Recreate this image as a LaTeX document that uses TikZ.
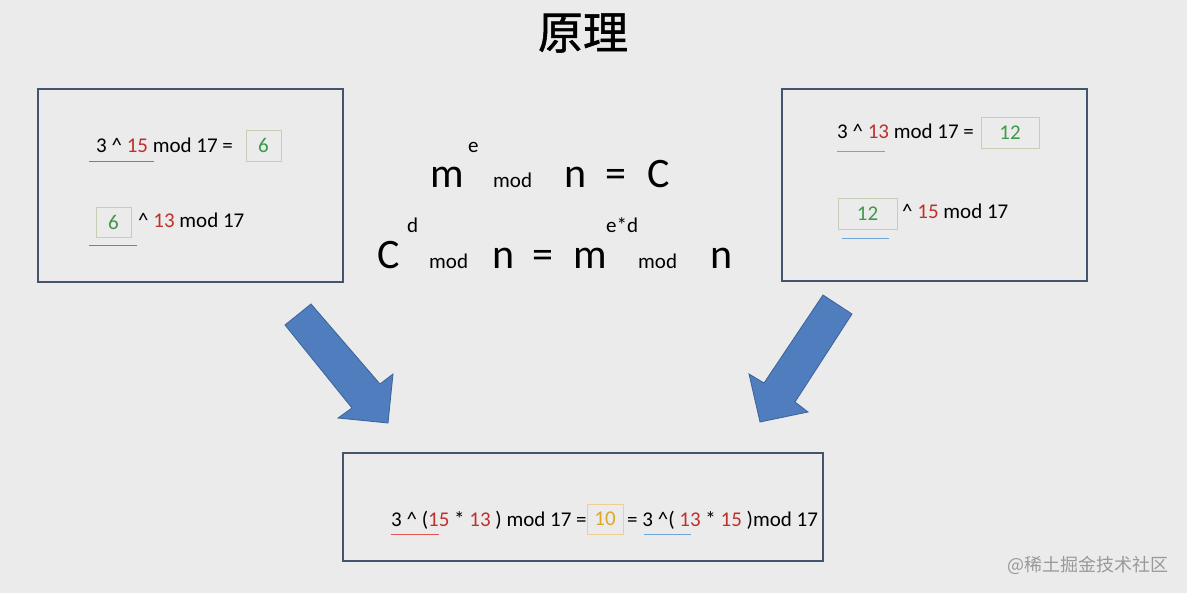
\documentclass[tikz,border=0pt]{standalone}
\usepackage{fontspec}
\setmainfont{Carlito}
\newfontfamily\cjk{Noto Sans CJK SC}
\newfontfamily\cjktitle[FakeBold=1.2]{Noto Sans CJK SC}
\definecolor{bg}{HTML}{EBEBEB}
\definecolor{panelline}{HTML}{44546A}
\definecolor{numred}{HTML}{C0302B}
\definecolor{numgreen}{HTML}{3E9A4A}
\definecolor{numorange}{HTML}{E0A52A}
\definecolor{greenline}{HTML}{C5CFB5}
\definecolor{orangeline}{HTML}{EBCF95}
\definecolor{ulred}{HTML}{E05555}
\definecolor{ulblue}{HTML}{6FA6D6}
\definecolor{arrowblue}{HTML}{4F7DBE}
\definecolor{arrowline}{HTML}{3B629A}
\newcommand\rn[1]{\textcolor{numred}{#1}}
\newcommand\caret{\textasciicircum}
\begin{document}
\begin{tikzpicture}[x=1pt,y=-1pt,
    txt/.style={anchor=base west,inner sep=0pt,font=\fontsize{21}{25}\selectfont},
    big/.style={anchor=base west,inner sep=0pt,font=\fontsize{42}{48}\selectfont},
    small/.style={anchor=base west,inner sep=0pt,font=\fontsize{21}{24}\selectfont},
    panel/.style={draw=panelline,line width=1.3pt,fill=bg},
    result/.style={draw=greenline,line width=0.8pt,text=numgreen,inner sep=0pt,font=\fontsize{21}{25}\selectfont},
    uline/.style={line width=1.3pt},
    blockarrow/.style={fill=arrowblue,draw=arrowline,line width=0.8pt}]
  \fill[bg] (0,0) rectangle (1187,593);
  \useasboundingbox (0,0) rectangle (1187,593);

  \node (title) at (583,33) [font=\fontsize{45}{50}\selectfont] {\cjktitle 原理};

  % three panels
  \node (leftpanel)   at (190.5,185.5) [panel,minimum width=305pt,minimum height=193pt] {};
  \node (rightpanel)  at (934.5,185)   [panel,minimum width=305pt,minimum height=192pt] {};
  \node (bottompanel) at (583,507)     [panel,minimum width=480pt,minimum height=108pt] {};

  % left panel
  \node (l1)   at (96,153)      [txt] {3 \caret{} \rn{15} mod 17 =};
  \node (l1r)  at (263.5,145.5) [result,minimum width=35pt,minimum height=31pt] {6};
  \node (l2r)  at (113.5,222)   [result,minimum width=35pt,minimum height=30pt] {6};
  \node (l2)   at (138,228)     [txt] {\caret{} \rn{13} mod 17};
  \draw[ulred,uline] (89,161.5) -- (154,161.5);
  \draw[ulred,uline] (89,245.5) -- (137,245.5);

  % right panel
  \node (r1)   at (837,139)     [txt] {3 \caret{} \rn{13} mod 17 =};
  \node (r1r)  at (1010,132.5)  [result,minimum width=58pt,minimum height=31pt] {12};
  \node (r2r)  at (867.5,213.5) [result,minimum width=59pt,minimum height=31pt] {12};
  \node (r2)   at (902,219)     [txt] {\caret{} \rn{15} mod 17};
  \draw[ulblue,uline] (837,151.5) -- (885,151.5);
  \draw[ulblue,uline] (842,238.5) -- (889,238.5);

  % formulas
  \node (m1)   at (430,188) [big] {m};
  \node (e1)   at (468,153) [small] {e};
  \node (mod1) at (493,188) [small] {mod};
  \node (n1)   at (564,188) [big] {n};
  \node (eq1)  at (605,188) [big] {=};
  \node (c1)   at (647,188) [big] {C};
  \node (c2)   at (377,269) [big] {C};
  \node (d2)   at (407,233) [small] {d};
  \node (mod2) at (429,269) [small] {mod};
  \node (n2)   at (492,269) [big] {n};
  \node (eq2)  at (532,269) [big] {=};
  \node (m2)   at (573,269) [big] {m};
  \node (ed2)  at (606,233) [small] {e*d};
  \node (mod3) at (638,269) [small] {mod};
  \node (n3)   at (710,269) [big] {n};

  % bottom panel
  \node (b1)   at (391,526) [txt] {3 \caret{} (\rn{15} * \rn{13} ) mod 17 =};
  \node (b1r)  at (605,519) [result,draw=orangeline,text=numorange,minimum width=36pt,minimum height=30pt] {10};
  \node (b2)   at (627,526) [txt] {= 3 \caret{}( \rn{13} * \rn{15} )mod 17};
  \draw[ulred,uline] (391,534.5) -- (439,534.5);
  \draw[ulblue,uline] (644,534.5) -- (691,534.5);

  % block arrows
  \draw[blockarrow] (285,325) -- (311,304) -- (380,384) -- (393,374) -- (388,423) -- (338,418) -- (352,408) -- cycle;
  \draw[blockarrow] (823,295) -- (852,314) -- (795,402) -- (808,412) -- (760,422) -- (749,374) -- (764,383) -- cycle;

  \node (mark) at (1088,565) [text=black!40,font=\fontsize{18}{20}\selectfont] {\cjk @稀土掘金技术社区};
\end{tikzpicture}
\end{document}
